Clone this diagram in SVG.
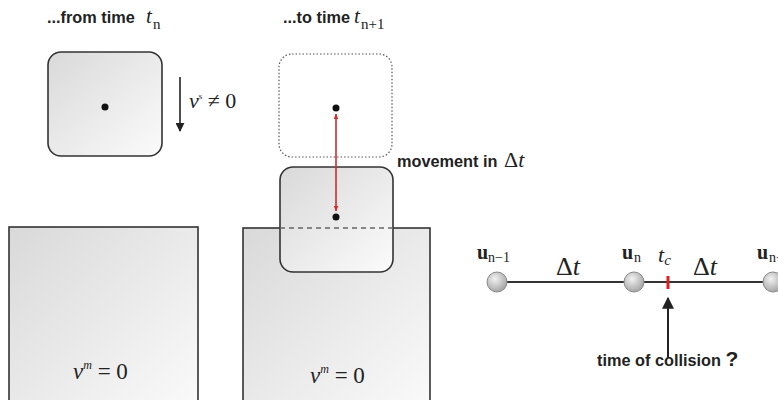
<svg xmlns="http://www.w3.org/2000/svg" width="778" height="400" viewBox="0 0 778 400">
<style>
.lbl{font-family:"Liberation Sans",Arial,sans-serif;font-weight:bold;font-size:16.3px;fill:#222}
.m{font-family:"Liberation Serif","Times New Roman",serif;fill:#222}
.it{font-style:italic}
.box{fill:url(#g);stroke:#333;stroke-width:1.6}
</style>
<defs>
<linearGradient id="g" x1="0" y1="0" x2="1" y2="1">
<stop offset="0" stop-color="#d9d9d9"/>
<stop offset="1" stop-color="#fbfbfb"/>
</linearGradient>
<radialGradient id="ball" cx="0.4" cy="0.35" r="0.65">
<stop offset="0" stop-color="#f2f2f2"/>
<stop offset="1" stop-color="#a6a6a6"/>
</radialGradient>
<marker id="ah" viewBox="0 0 10 10" refX="9" refY="5" markerWidth="9" markerHeight="9" markerUnits="userSpaceOnUse" orient="auto">
<path d="M0,0 L10,5 L0,10 z" fill="#222"/>
</marker>
<marker id="bh" viewBox="0 0 10 10" refX="9" refY="5" markerWidth="12" markerHeight="12" markerUnits="userSpaceOnUse" orient="auto">
<path d="M0,0 L10,5 L0,10 z" fill="#222"/>
</marker>
<marker id="rh" viewBox="0 0 10 10" refX="9" refY="5" markerWidth="6" markerHeight="6" markerUnits="userSpaceOnUse" orient="auto-start-reverse">
<path d="M0,1 L10,5 L0,9 z" fill="#d42a2a"/>
</marker>
</defs>

<g id="title-left">
<text class="lbl" x="47" y="23">...from time</text>
<text class="m it" x="146" y="23" font-size="21">t</text>
<text class="m" x="153" y="29" font-size="15">n</text>
</g>
<g id="title-right">
<text class="lbl" x="283" y="23">...to time</text>
<text class="m it" x="354" y="23" font-size="21">t</text>
<text class="m" x="361" y="29" font-size="15">n+1</text>
</g>

<g id="body-start">
<rect class="box" x="48" y="52" width="114" height="104" rx="13"/>
<circle cx="105" cy="107" r="3.5" fill="#111"/>
</g>
<g id="velocity-label">
<text class="m" x="189" y="108" font-size="22"><tspan font-style="italic">v</tspan><tspan font-size="9" dy="-9">s</tspan><tspan dy="9"> ≠ 0</tspan></text>
</g>

<g id="body-ghost">
<rect x="279" y="54" width="113" height="103" rx="13" fill="none" stroke="#555" stroke-width="1.2" stroke-dasharray="1.5 2"/>
<circle cx="336" cy="108" r="3.5" fill="#111"/>
</g>

<g id="obstacle-left">
<rect class="box" x="9" y="227" width="189" height="190"/>
<text class="m" x="73" y="379" font-size="23"><tspan font-style="italic">v</tspan><tspan font-size="12" dy="-10" font-style="italic">m</tspan><tspan dy="10"> = 0</tspan></text>
</g>

<g id="obstacle-right">
<rect class="box" x="243" y="228" width="187" height="190"/>
<text class="m" x="310" y="383" font-size="23"><tspan font-style="italic">v</tspan><tspan font-size="12" dy="-10" font-style="italic">m</tspan><tspan dy="10"> = 0</tspan></text>
</g>

<g id="body-end">
<rect class="box" x="280" y="167" width="113" height="105" rx="13"/>
<line x1="280" y1="228" x2="393" y2="228" stroke="#666" stroke-width="1.4" stroke-dasharray="5 4"/>
<circle cx="336" cy="217" r="3.5" fill="#111"/>
</g>

<g id="movement-label">
<text class="lbl" x="397" y="167">movement in</text>
<text class="m" x="504" y="167" font-size="22">Δ<tspan font-style="italic">t</tspan></text>
</g>

<g id="timeline">
<line x1="497" y1="282" x2="778" y2="282" stroke="#333" stroke-width="2"/>
<line x1="668" y1="276" x2="668" y2="289" stroke="#e02020" stroke-width="3"/>
</g>
<g id="u-prev">
<circle cx="497" cy="282" r="10" fill="url(#ball)" stroke="#8a8a8a" stroke-width="1"/>
<text class="m" x="477" y="259" font-size="20" font-weight="bold">u</text>
<text class="m" x="488" y="262" font-size="14">n−1</text>
</g>
<g id="u-cur">
<circle cx="634" cy="282" r="10" fill="url(#ball)" stroke="#8a8a8a" stroke-width="1"/>
<text class="m" x="622" y="259" font-size="20" font-weight="bold">u</text>
<text class="m" x="634" y="262" font-size="14">n</text>
</g>
<g id="u-next">
<circle cx="773" cy="282" r="10" fill="url(#ball)" stroke="#8a8a8a" stroke-width="1"/>
<text class="m" x="757" y="259" font-size="20" font-weight="bold">u</text>
<text class="m" x="769" y="262" font-size="14">n+1</text>
</g>
<g id="dt-labels">
<text class="m" x="556" y="275" font-size="26">Δ<tspan font-style="italic">t</tspan></text>
<text class="m" x="693" y="275" font-size="26">Δ<tspan font-style="italic">t</tspan></text>
<text class="m" x="658" y="262" font-size="22"><tspan font-style="italic">t</tspan><tspan font-size="15" font-style="italic" dy="3">c</tspan></text>
</g>
<g id="collision-label">
<text class="lbl" x="597" y="366">time of collision <tspan font-size="21">?</tspan></text>
</g>

<g id="connectors">
<line x1="180" y1="77" x2="180" y2="131" stroke="#222" stroke-width="1.6" marker-end="url(#ah)"/>
<line x1="336" y1="114" x2="336" y2="211" stroke="#d42a2a" stroke-width="1.6" marker-start="url(#rh)" marker-end="url(#rh)"/>
<line x1="668" y1="358" x2="668" y2="298" stroke="#222" stroke-width="2" marker-end="url(#bh)"/>
</g>
</svg>
